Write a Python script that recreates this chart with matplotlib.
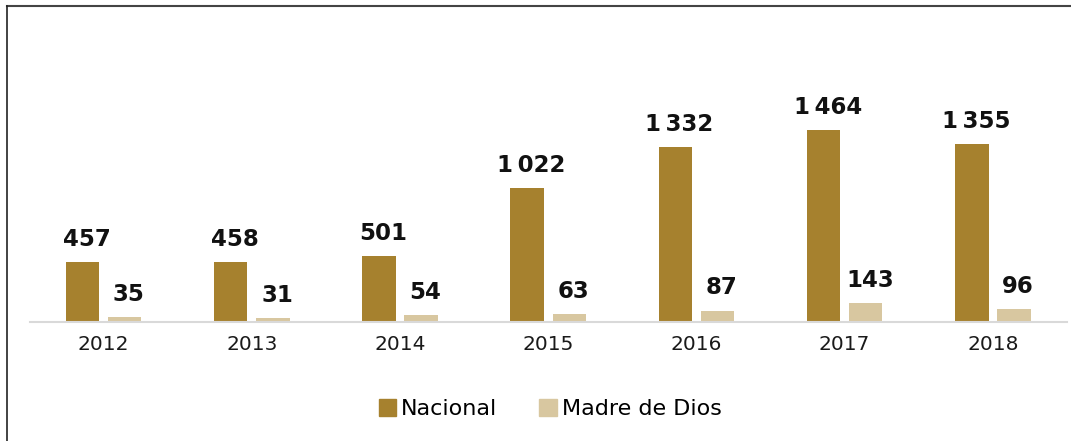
import numpy as np
import matplotlib
matplotlib.use("Agg")
import matplotlib.pyplot as plt
from matplotlib.patches import Patch
from matplotlib.lines import Line2D

years = ["2012", "2013", "2014", "2015", "2016", "2017", "2018"]
nacional = [457, 458, 501, 1022, 1332, 1464, 1355]
madre_de_dios = [35, 31, 54, 63, 87, 143, 96]

c_nac = "#A6812E"
c_mdd = "#D8C7A0"

plt.rcParams['font.family'] = ['DejaVu Sans']

W, H = 1071, 441
fig = plt.figure(figsize=(W / 100, H / 100), dpi=100)
ax = fig.add_axes([30 / W, 119 / H, (1067 - 30) / W, (322 - 20) / H])

x = np.arange(len(years))
off = 0.142
bw = 0.226
ax.bar(x - off, nacional, bw, color=c_nac)
ax.bar(x + off, madre_de_dios, bw, color=c_mdd)


def fmt(v):
    return f"{v:,}".replace(",", "\u2009")


for i in range(len(years)):
    ax.annotate(fmt(nacional[i]), (x[i] - off, nacional[i]), xytext=(3, 8),
                textcoords="offset points", ha="center", va="bottom",
                fontsize=16.5, fontweight="bold", color="#111111")
    ax.annotate(fmt(madre_de_dios[i]), (x[i] + off, madre_de_dios[i]), xytext=(3, 8),
                textcoords="offset points", ha="center", va="bottom",
                fontsize=16.5, fontweight="bold", color="#111111")

ax.set_xlim(-0.496, 6.50)
ax.set_ylim(0, 2300)
ax.set_xticks(x)
ax.set_xticklabels(years, fontsize=14.5, color="#1a1a1a")
ax.tick_params(axis="x", length=0, pad=9)
ax.set_yticks([])
for s in ["top", "left", "right"]:
    ax.spines[s].set_visible(False)
ax.spines["bottom"].set_color("#D9D9D9")
ax.spines["bottom"].set_linewidth(1.5)

handles = [Patch(color=c_nac, label="Nacional"), Patch(color=c_mdd, label="Madre de Dios")]
fig.legend(handles=handles, loc="center", bbox_to_anchor=(550 / W, 1 - 409 / H),
           ncol=2, frameon=False, fontsize=16, handlelength=0.8, handleheight=0.8,
           handletextpad=0.2, columnspacing=1.9)

# frame lines (top and left)
fig.add_artist(Line2D([7 / W, 1], [1 - 6 / H, 1 - 6 / H], color="#444444", lw=1.5))
fig.add_artist(Line2D([7 / W, 7 / W], [0, 1 - 6 / H], color="#222222", lw=1.2))

fig.savefig("out.png", dpi=100)
